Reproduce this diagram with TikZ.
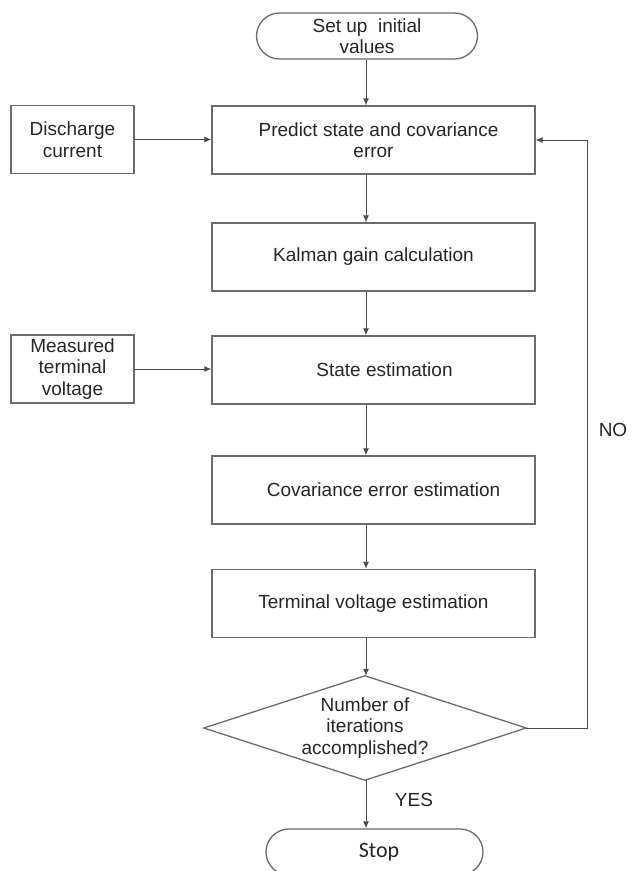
\documentclass[tikz,border=0pt]{standalone}
\usepackage{fontspec}
\setmainfont{Liberation Sans}
\newfontfamily\stopfont{Carlito}
\usetikzlibrary{shapes.geometric,arrows.meta,calc}
\begin{document}
\begin{tikzpicture}[x=1pt,y=-1pt,
  every node/.style={font=\fontsize{19}{21.5}\selectfont, text=black!85},
  boxline/.style={draw=black!58, line width=1.3pt},
  procbox/.style={boxline, rectangle, minimum width=323pt, minimum height=68pt, inner sep=0pt, align=center},
  inbox/.style={boxline, rectangle, minimum width=123pt, minimum height=68pt, inner sep=0pt, align=center},
  termbox/.style={boxline, rectangle, rounded corners=23pt, minimum width=221pt, minimum height=46pt, inner sep=0pt, align=center},
  decbox/.style={rectangle, minimum width=322pt, minimum height=104pt, inner sep=0pt, align=center},
  flow/.style={draw=black!70, line width=1pt, -{Latex[length=7pt,width=6pt]}},
  plainlab/.style={inner sep=0pt}
]
\useasboundingbox (0,0) rectangle (634,871);
\clip (0,0) rectangle (634,871);
\fill[white] (0,0) rectangle (634,871);

\node[termbox] (setup) at (367,36) {Set up\ \ initial\\values};
\node[procbox] (predict) at (373.5,140) {\hspace*{10pt}Predict state and covariance\\error};
\node[inbox] (disch) at (72.5,139.5) {Discharge\\current};
\node[procbox] (kalman) at (373.5,257) {Kalman gain calculation};
\node[procbox] (state) at (373.5,370) {\hspace*{22pt}State estimation};
\node[inbox] (meas) at (72.5,369) {Measured\\terminal\\voltage};
\node[procbox] (cov) at (373.5,490) {\hspace*{20pt}Covariance error estimation};
\node[procbox] (term) at (373.5,603.5) {Terminal voltage estimation};
\node[decbox] (dec) at (365,728) {Number of\\iterations\\accomplished?};
\draw[boxline] (dec.north) -- (dec.east) -- (dec.south) -- (dec.west) -- cycle;
\node[termbox, minimum width=217pt, font=\stopfont\fontsize{22}{24}\selectfont] (stop) at (374.5,852) {\hspace*{9pt}Stop};

\coordinate (loopr) at (587,728);
\coordinate (loopt) at (587,140);
\node[plainlab] (no) at (613,430) {NO};
\node[plainlab] (yes) at (414,800) {YES};

\coordinate (col) at (366,0);
\draw[flow] (setup.south -| col) -- (predict.north -| col);
\draw[flow] (predict.south -| col) -- (kalman.north -| col);
\draw[flow] (kalman.south -| col) -- (state.north -| col);
\draw[flow] (state.south -| col) -- (cov.north -| col);
\draw[flow] (cov.south -| col) -- (term.north -| col);
\draw[flow] (term.south -| col) -- (dec.north -| col);
\draw[flow] (dec.south -| col) -- (stop.north -| col);
\draw[flow] (disch.east) -- (disch.east -| predict.west);
\draw[flow] (meas.east) -- (meas.east -| state.west);
\draw[flow] (dec.east) -- (loopr) -- (loopt) -- (predict.east);
\end{tikzpicture}
\end{document}
